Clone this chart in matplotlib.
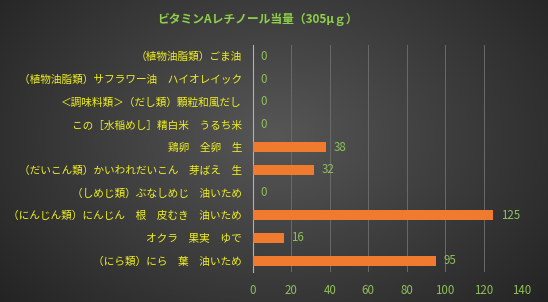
import matplotlib
matplotlib.use("Agg")
import matplotlib.pyplot as plt
import numpy as np
import matplotlib.patheffects as pe

plt.rcParams['font.family'] = ['Noto Sans CJK JP', 'DejaVu Sans']

title = "ビタミンAレチノール当量（305μｇ）"
categories = [
    "（植物油脂類）ごま油",
    "（植物油脂類）サフラワー油　ハイオレイック",
    "＜調味料類＞（だし類）顆粒和風だし",
    "この［水稲めし］精白米　うるち米",
    "鶏卵　全卵　生",
    "（だいこん類）かいわれだいこん　芽ばえ　生",
    "（しめじ類）ぶなしめじ　油いため",
    "（にんじん類）にんじん　根　皮むき　油いため",
    "オクラ　果実　ゆで",
    "（にら類）にら　葉　油いため",
]
values = [0, 0, 0, 0, 38, 32, 0, 125, 16, 95]
xticks = [0, 20, 40, 60, 80, 100, 120, 140]

W, H = 548, 302
fig = plt.figure(figsize=(W/100, H/100), dpi=100)

# radial gradient background
bg = fig.add_axes([0, 0, 1, 1])
yy, xx = np.mgrid[0:H, 0:W]
r = np.sqrt(((xx - W*0.5)/(W*0.65))**2 + ((yy - H*0.45)/(H*0.85))**2)
shade = np.clip(0.34 - 0.2*r, 0.12, 0.35)
img = np.dstack([shade, shade, shade])
bg.imshow(img, aspect='auto', extent=[0, 1, 0, 1])
bg.axis('off')

ax = fig.add_axes([253/W, 1-272/H, (522-253)/W, (272-45)/H])
ax.patch.set_alpha(0)
y = np.arange(len(categories))
bars = ax.barh(y, values, height=0.45, color='#f07b2e', zorder=3,
               path_effects=[pe.SimpleLineShadow(offset=(1.5, -1.5), shadow_color='black', alpha=0.6), pe.Normal()])
ax.set_ylim(len(categories)-0.5, -0.5)
ax.set_xlim(0, 140)
ax.set_xticks(xticks)
ax.set_xticklabels([str(t) for t in xticks], color='#8fbf5a', fontsize=8.3)
ax.set_yticks(y)
ax.set_yticklabels(categories, color='#f0f020', fontsize=7.7)
ax.tick_params(axis='both', length=0)
ax.tick_params(axis='x', pad=9)
ax.tick_params(axis='y', pad=8)
for s in ['top', 'right', 'bottom']:
    ax.spines[s].set_visible(False)
ax.spines['left'].set_color('#b0b0b0')
ax.spines['left'].set_linewidth(0.8)
ax.grid(axis='x', color='#6a6a6a', linewidth=0.7, zorder=0)
ax.set_axisbelow(True)

for yi, v in zip(y, values):
    ax.text(v + 4, yi, str(v), va='center', ha='left', color='#8fbf5a', fontsize=8.3)

fig.text(257/W, 1-19/H, title, ha='center', va='center', color='#8fd048',
         fontsize=8.5, fontweight='bold')

fig.savefig("out.png", dpi=100)
